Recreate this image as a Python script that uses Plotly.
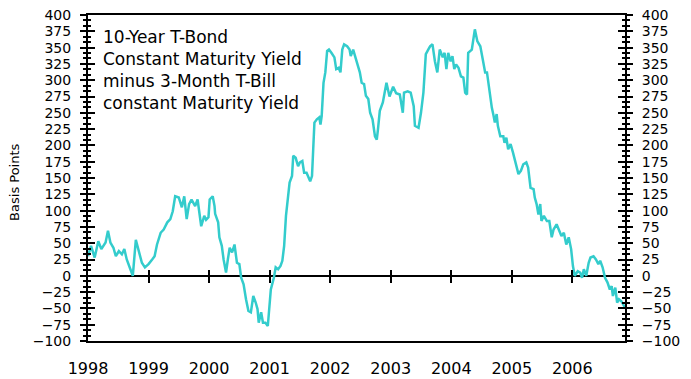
import plotly.graph_objects as go

# 10-year T-bond minus 3-month T-bill constant maturity yield spread (basis points)
year_frac = [
    1998.00, 1998.05, 1998.11, 1998.17, 1998.22, 1998.29, 1998.33, 1998.37, 1998.42, 1998.46,
    1998.51, 1998.56, 1998.60, 1998.64, 1998.70, 1998.74, 1998.79, 1998.83, 1998.89, 1998.94,
    1999.00, 1999.06, 1999.10, 1999.14, 1999.20, 1999.25, 1999.31, 1999.36, 1999.40, 1999.44,
    1999.50, 1999.55, 1999.59, 1999.63, 1999.67, 1999.71, 1999.77, 1999.81, 1999.87, 1999.92,
    1999.95, 1999.99, 2000.01, 2000.06, 2000.09, 2000.10, 2000.15, 2000.17, 2000.21, 2000.24,
    2000.28, 2000.31, 2000.34, 2000.38, 2000.42, 2000.46, 2000.50, 2000.53, 2000.57, 2000.61,
    2000.65, 2000.69, 2000.73, 2000.77, 2000.80, 2000.82, 2000.86, 2000.89, 2000.93, 2000.97,
    2000.99, 2001.02, 2001.07, 2001.10, 2001.14, 2001.18, 2001.21, 2001.24, 2001.27, 2001.30,
    2001.33, 2001.37, 2001.39, 2001.43, 2001.47, 2001.50, 2001.54, 2001.57, 2001.61, 2001.67,
    2001.70, 2001.72, 2001.74, 2001.78, 2001.82, 2001.84, 2001.86, 2001.89, 2001.92, 2001.95,
    2001.98, 2002.02, 2002.07, 2002.10, 2002.14, 2002.17, 2002.20, 2002.23, 2002.28, 2002.32,
    2002.34, 2002.38, 2002.41, 2002.45, 2002.49, 2002.52, 2002.56, 2002.59, 2002.63, 2002.66,
    2002.70, 2002.74, 2002.77, 2002.79, 2002.82, 2002.87, 2002.90, 2002.93, 2002.98, 2003.04,
    2003.09, 2003.15, 2003.20, 2003.22, 2003.28, 2003.33, 2003.38, 2003.40, 2003.46, 2003.50,
    2003.54, 2003.58, 2003.62, 2003.65, 2003.69, 2003.73, 2003.77, 2003.81, 2003.86, 2003.89,
    2003.92, 2003.95, 2003.99, 2004.02, 2004.05, 2004.08, 2004.12, 2004.16, 2004.20, 2004.23,
    2004.26, 2004.28, 2004.34, 2004.37, 2004.39, 2004.43, 2004.48, 2004.52, 2004.56, 2004.59,
    2004.63, 2004.67, 2004.70, 2004.72, 2004.75, 2004.77, 2004.81, 2004.86, 2004.88, 2004.91,
    2004.94, 2004.98, 2005.02, 2005.06, 2005.11, 2005.15, 2005.19, 2005.24, 2005.27, 2005.31,
    2005.36, 2005.38, 2005.41, 2005.44, 2005.47, 2005.49, 2005.53, 2005.58, 2005.62, 2005.66,
    2005.69, 2005.74, 2005.78, 2005.82, 2005.86, 2005.90, 2005.94, 2005.98, 2006.01, 2006.04,
    2006.09, 2006.13, 2006.16, 2006.19, 2006.23, 2006.27, 2006.30, 2006.35, 2006.39, 2006.43,
    2006.46, 2006.50, 2006.54, 2006.58, 2006.62, 2006.65, 2006.67, 2006.71, 2006.74, 2006.77,
    2006.81, 2006.85, 2006.87,
]
spread_bp = [
    30, 46, 28, 53, 41, 51, 69, 51, 43, 30,
    38, 33, 41, 25, 10, 0, 55, 41, 20, 13,
    18, 25, 30, 48, 66, 71, 82, 87, 99, 122,
    120, 105, 122, 87, 110, 117, 107, 117, 76, 92,
    86, 90, 117, 122, 107, 95, 82, 59, 46, 25,
    5, 25, 43, 36, 48, 20, 18, -3, -13, -36,
    -54, -56, -31, -41, -51, -72, -56, -72, -72, -77,
    -59, -21, -3, 13, 10, 15, 23, 46, 92, 117,
    143, 153, 184, 181, 168, 174, 176, 158, 158, 145,
    153, 194, 235, 240, 243, 232, 245, 296, 312, 345,
    347, 342, 335, 317, 319, 312, 347, 355, 352, 347,
    337, 347, 337, 327, 312, 296, 294, 276, 271, 250,
    240, 214, 209, 225, 253, 266, 281, 296, 275, 290,
    280, 278, 250, 281, 283, 281, 260, 230, 227, 250,
    281, 340, 347, 352, 355, 329, 312, 347, 335, 342,
    317, 342, 329, 337, 317, 324, 319, 306, 304, 281,
    278, 342, 347, 363, 378, 360, 352, 332, 312, 312,
    283, 258, 245, 235, 248, 230, 214, 214, 204, 212,
    194, 202, 189, 176, 156, 161, 171, 174, 166, 135,
    133, 120, 110, 94, 110, 84, 92, 84, 84, 59,
    71, 79, 71, 61, 66, 48, 59, 41, 15, 0,
    7, 5, -3, 10, 0, 20, 28, 30, 25, 18,
    23, 13, -3, -10, -21, -16, -31, -18, -41, -36,
    -39, -46, -49,
]

years = [1998, 1999, 2000, 2001, 2002, 2003, 2004, 2005, 2006]
y_ticks = [-100, -75, -50, -25, 0, 25, 50, 75, 100, 125, 150, 175, 200,
           225, 250, 275, 300, 325, 350, 375, 400]

x_range = [1998, 2006.87]
y_range = [-100, 400]

FONT = "DejaVu Sans"
BLACK = "#000000"
LINE = "#33CCCC"

fig = go.Figure()

# Transparent copies of the series so that every overlaid axis gets drawn
for xa, ya in [("x2", "y"), ("x3", "y"), ("x", "y2"), ("x", "y3"), ("x", "y4")]:
    fig.add_trace(go.Scatter(
        x=year_frac, y=spread_bp, mode="lines", xaxis=xa, yaxis=ya,
        line=dict(color="rgba(0,0,0,0)", width=0),
        showlegend=False, hoverinfo="skip",
    ))

fig.add_trace(go.Scatter(
    x=year_frac, y=spread_bp, mode="lines",
    line=dict(color=LINE, width=2.5),
    showlegend=False, hoverinfo="skip",
))

minor = dict(tickmode="linear", tick0=-100, dtick=25 / 3, ticks="outside",
             ticklen=3, tickwidth=1.5, tickcolor=BLACK)
minor_in = dict(minor, ticks="inside")

y_common = dict(range=y_range, tickmode="array", tickvals=y_ticks,
                showgrid=False, showline=True, linecolor=BLACK, linewidth=2,
                tickwidth=2, tickcolor=BLACK, ticklen=6, automargin=False,
                tickfont=dict(family=FONT, size=14, color=BLACK),
                fixedrange=True)

x_overlay = dict(range=x_range, overlaying="x", anchor="free", position=0.2,
                 tickmode="array", tickvals=years[1:], ticklen=6, tickwidth=2,
                 tickcolor=BLACK, showticklabels=False, showgrid=False,
                 zeroline=False, showline=False, automargin=False)

fig.update_layout(
    width=691, height=379,
    margin=dict(l=88, r=66, t=15, b=38, autoexpand=False),
    paper_bgcolor="white", plot_bgcolor="white",
    xaxis=dict(range=x_range, tickmode="array", tickvals=years,
               ticktext=[str(v) for v in years], ticks="",
               showgrid=False, zeroline=False, showline=True, mirror=True,
               linecolor=BLACK, linewidth=2, ticklabelstandoff=12,
               automargin=False,
               tickfont=dict(family=FONT, size=16, color=BLACK)),
    xaxis2=dict(x_overlay, ticks="outside"),
    xaxis3=dict(x_overlay, ticks="inside"),
    yaxis=dict(y_common, side="left", ticks="outside", minor=minor,
               zeroline=True, zerolinecolor=BLACK, zerolinewidth=2,
               ticklabelstandoff=6),
    yaxis2=dict(y_common, side="right", overlaying="y", anchor="x",
                ticks="outside", minor=minor, zeroline=False,
                ticklabelstandoff=6),
    yaxis3=dict(y_common, side="left", overlaying="y", anchor="x",
                ticks="inside", minor=minor_in, ticklen=7,
                showticklabels=False, zeroline=False),
    yaxis4=dict(y_common, side="right", overlaying="y", anchor="x",
                ticks="inside", minor=minor_in, ticklen=7,
                showticklabels=False, zeroline=False),
    annotations=[
        dict(text="10-Year T-Bond<br>Constant Maturity Yield<br>minus 3-Month T-Bill<br>constant Maturity Yield",
             xref="paper", yref="paper", x=0.024, y=0.968,
             xanchor="left", yanchor="top", align="left", showarrow=False,
             font=dict(family=FONT, size=17, color=BLACK)),
        dict(text="Basis Points", xref="paper", yref="paper",
             x=-0.136, y=0.488, xanchor="center", yanchor="middle",
             textangle=-90, showarrow=False,
             font=dict(family=FONT, size=13, color=BLACK)),
    ],
)

fig.write_html("out.html")
